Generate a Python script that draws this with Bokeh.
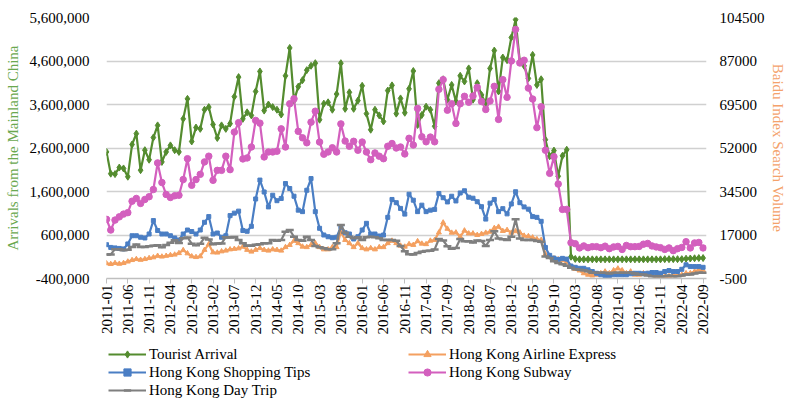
import math
from bokeh.plotting import figure
from bokeh.layouts import column
from bokeh.models import (Range1d, LinearAxis, FixedTicker, NumeralTickFormatter,
                          Legend, LegendItem)
from bokeh.embed import file_html
from bokeh.resources import INLINE

# ---------------- data ----------------
tick_labels = ["2011-01", "2011-06", "2011-11", "2012-04", "2012-09", "2013-02", "2013-07",
               "2013-12", "2014-05", "2014-10", "2015-03", "2015-08", "2016-01", "2016-06",
               "2016-11", "2017-04", "2017-09", "2018-02", "2018-07", "2018-12", "2019-05",
               "2019-10", "2020-03", "2020-08", "2021-01", "2021-06", "2021-11", "2022-04",
               "2022-09"]
left_ticks = [-400000, 600000, 1600000, 2600000, 3600000, 4600000, 5600000]
right_ticks = [-500, 17000, 34500, 52000, 69500, 87000, 104500]

tourist_arrival = [
    2510000, 2010000, 2000000, 2150000, 2130000, 1940000, 2680000, 2930000, 2090000, 2550000,
    2330000, 2840000, 3120000, 2280000, 2510000, 2660000, 2550000, 2510000, 3270000, 3730000,
    2750000, 3070000, 3040000, 3480000, 3540000, 3140000, 2830000, 3120000, 3040000, 3160000,
    3780000, 4230000, 3270000, 3420000, 3350000, 3900000, 4360000, 3460000, 3600000, 3540000,
    3480000, 3370000, 4260000, 4900000, 3690000, 4010000, 4160000, 4390000, 4490000, 4550000,
    3250000, 3620000, 3650000, 3480000, 3840000, 4550000, 3500000, 3880000, 3500000, 3690000,
    4030000, 3390000, 3020000, 3480000, 3350000, 3210000, 3920000, 4040000, 3390000, 3740000,
    3410000, 3960000, 4370000, 3130000, 3360000, 3550000, 3480000, 3100000, 4090000, 4180000,
    3710000, 4050000, 3670000, 4260000, 4130000, 4430000, 3710000, 4090000, 3820000, 3630000,
    4430000, 4840000, 3900000, 4680000, 4620000, 5140000, 5550000, 4580000, 4490000, 4200000,
    4740000, 4050000, 4180000, 2790000, 2410000, 2540000, 1950000, 2420000, 2560000, 100000,
    50000, 40000, 40000, 40000, 40000, 40000, 40000, 40000, 40000, 40000,
    40000, 40000, 40000, 40000, 40000, 40000, 40000, 40000, 40000, 40000,
    40000, 45000, 45000, 45000, 45000, 45000, 55000, 60000, 65000, 70000,
    70000]

airline_express = [
    5600, 5300, 5700, 5400, 5700, 6300, 6900, 7300, 7000, 7300,
    7700, 8000, 8600, 8300, 8600, 8900, 9100, 9700, 10900, 9600,
    8400, 8100, 8400, 11000, 13300, 10000, 9900, 10400, 10700, 11200,
    11400, 11600, 12300, 11000, 10300, 11000, 11700, 11000, 10700, 11200,
    11000, 10700, 12100, 13000, 14700, 13700, 12300, 12100, 13000, 13700,
    12100, 11200, 11200, 12100, 12100, 18300, 15000, 13700, 12100, 13700,
    11700, 11200, 11700, 11200, 12100, 12100, 13700, 14700, 13700, 12700,
    12300, 13300, 13000, 14500, 13500, 13300, 14700, 15000, 18000, 22000,
    19500, 17900, 18000, 16300, 18800, 17600, 17600, 17000, 17400, 17900,
    18300, 19800, 20300, 18600, 19000, 17900, 18500, 18000, 16700, 16500,
    16000, 15300, 15000, 9300, 8300, 7600, 7200, 6800, 6000, 4300,
    3300, 2700, 1600, 1000, 700, 1000, 1600, 2300, 1600, 2800,
    3500, 2800, 1600, 2300, 1000, 1000, 1600, 1400, 1000, 400,
    400, 400, 400, 700, 1000, 1000, 1600, 1600, 2300, 3000,
    2800]

shopping_tips = [
    13100, 12000, 11800, 11600, 11400, 13400, 16700, 16700, 16100, 15800,
    17400, 22800, 18800, 17400, 17400, 16700, 15800, 15000, 17400, 19000,
    18400, 17400, 19000, 22100, 24400, 17400, 17800, 16100, 16700, 24800,
    25800, 26600, 18800, 18500, 20500, 31500, 39100, 34300, 28300, 33000,
    30800, 31700, 37700, 35700, 32600, 27000, 26400, 35000, 39700, 26400,
    19700, 17000, 16300, 15900, 16100, 20300, 17900, 17400, 15400, 16300,
    19000, 21700, 17400, 17400, 16600, 17000, 24100, 31300, 30000, 27700,
    25400, 33400, 31000, 26400, 29000, 26400, 27000, 27300, 33700, 32000,
    30300, 32600, 30700, 33900, 34800, 32200, 31800, 30400, 28400, 23400,
    29800, 31300, 26400, 27600, 25500, 29500, 34400, 30000, 28300, 27400,
    24400, 24100, 22500, 12000, 8800, 7700, 7200, 7600, 7300, 4500,
    4000, 3600, 3600, 3000, 2300, 1600, 1000, 600, 600, 1000,
    1000, 1000, 1000, 1400, 1600, 1600, 1400, 1600, 1900, 1900,
    1600, 2300, 2700, 2300, 2300, 3200, 5000, 4300, 4300, 4300,
    4000]

subway = [
    23300, 19000, 23000, 24300, 25400, 26000, 30600, 31700, 29700, 31300,
    32400, 35300, 46000, 38100, 33300, 32100, 32800, 33000, 39300, 47700,
    37000, 39300, 41400, 46400, 48700, 39000, 43000, 43000, 48700, 43300,
    58400, 62200, 47600, 48000, 52400, 63100, 62000, 48400, 50400, 50400,
    50700, 59700, 52400, 69800, 71800, 58700, 56100, 54100, 62400, 66800,
    54400, 49500, 50400, 52100, 50400, 61700, 54800, 52700, 54700, 51100,
    54400, 50400, 47300, 50000, 48700, 47700, 52700, 53800, 52000, 52400,
    49600, 55900, 53200, 67900, 56500, 54500, 56400, 54500, 75600, 79500,
    67200, 69800, 61900, 69800, 72800, 70400, 72900, 76400, 70700, 67500,
    70900, 76800, 63500, 79500, 72400, 87000, 99700, 86200, 87300, 76100,
    71700, 60200, 68600, 51100, 41800, 48500, 37500, 27300, 27300, 13900,
    13500, 11800, 12600, 11900, 12300, 12300, 11900, 12500, 11500, 12200,
    12400, 11200, 12800, 12300, 12300, 12400, 13300, 13600, 12600, 12200,
    11900, 11200, 11800, 10700, 11500, 12000, 14300, 11800, 13800, 14000,
    11800]

day_trip = [
    9200, 9200, 11300, 11300, 10900, 11100, 12200, 13200, 12200, 12200,
    12500, 12700, 12900, 12100, 13000, 13900, 14900, 13800, 15700, 16000,
    13500, 12900, 13500, 15900, 15200, 13300, 13600, 13600, 16100, 16000,
    16200, 15000, 13700, 12700, 12700, 13100, 13300, 13700, 13700, 15000,
    14700, 15000, 18300, 19000, 16300, 15000, 14700, 16300, 15000, 12600,
    12100, 11700, 11300, 11300, 13700, 21000, 17900, 16300, 15700, 16100,
    15000, 16100, 16300, 16100, 15700, 15000, 15000, 15000, 14700, 12600,
    10500, 9300, 9200, 9800, 10300, 10600, 10700, 11200, 15400, 14800,
    12500, 11500, 11800, 15400, 14500, 14500, 14000, 14800, 14600, 12600,
    15000, 18500, 15600, 15300, 15000, 16300, 23300, 15600, 15000, 15000,
    15000, 14600, 14300, 8400, 7700, 6400, 5700, 5200, 4600, 3800,
    3200, 3000, 2800, 2400, 1800, 1800, 1800, 1800, 1500, 1800,
    1800, 1800, 1800, 1800, 1500, 1100, 1100, 700, 400, 400,
    400, 400, 700, 400, 400, 700, 1100, 1100, 1500, 1800,
    1800]

series_names = ["Tourist Arrival", "Hong Kong Airline Express", "Hong Kong Shopping Tips",
                "Hong Kong Subway", "Hong Kong Day Trip"]
left_title = "Arrivals from the Mainland China"
right_title = "Baidu Index Search Volume"

months = list(range(len(tourist_arrival)))
tick_positions = [5 * k for k in range(len(tick_labels))]

# ---------------- styling ----------------
FONT = "Liberation Serif"
C_GREEN = "#548C2F"
C_ORANGE = "#F4A060"
C_BLUE = "#4A7EC4"
C_PINK = "#D35FBE"
C_GRAY = "#7F7F7F"

p = figure(frame_width=600, frame_height=261,
           min_border_left=106, min_border_right=80, min_border_top=17, min_border_bottom=66,
           x_range=Range1d(0, 140.8), y_range=Range1d(-400000, 5600000),
           output_backend="svg", toolbar_location=None, tools="")
p.extra_y_ranges = {"right": Range1d(-500, 104500)}
p.outline_line_color = None
p.background_fill_color = "white"
p.border_fill_color = "white"

# grid
p.xgrid.visible = False
p.ygrid.grid_line_color = "#D0D0D0"
p.ygrid.grid_line_width = 1.5

# left axis
ya = p.yaxis[0]
ya.ticker = FixedTicker(ticks=left_ticks)
ya.formatter = NumeralTickFormatter(format="0,0")
ya.axis_line_color = None
ya.major_tick_line_color = None
ya.minor_tick_line_color = None
ya.major_tick_out = 0
ya.major_label_standoff = 17
ya.major_label_text_font = FONT
ya.major_label_text_font_size = "15px"
ya.major_label_text_color = "black"
ya.axis_label = left_title
ya.axis_label_text_font = FONT
ya.axis_label_text_font_size = "15px"
ya.axis_label_text_font_style = "normal"
ya.axis_label_text_color = "#6AA84F"
ya.axis_label_standoff = 6

# right axis
ra = LinearAxis(y_range_name="right", ticker=FixedTicker(ticks=right_ticks),
                formatter=NumeralTickFormatter(format="0"))
ra.axis_line_color = None
ra.major_tick_line_color = None
ra.minor_tick_line_color = None
ra.major_tick_out = 0
ra.major_label_standoff = 13
ra.major_label_text_font = FONT
ra.major_label_text_font_size = "15px"
ra.major_label_text_color = "black"
ra.axis_label = right_title
ra.axis_label_text_font = FONT
ra.axis_label_text_font_size = "15px"
ra.axis_label_text_font_style = "normal"
ra.axis_label_text_color = "#F4A26B"
ra.axis_label_standoff = 2
ra.axis_label_orientation = "vertical"
p.add_layout(ra, "right")

# bottom axis
xa = p.xaxis[0]
xa.ticker = FixedTicker(ticks=tick_positions)
xa.major_label_overrides = {t: lab for t, lab in zip(tick_positions, tick_labels)}
xa.major_label_orientation = math.pi / 2
xa.axis_line_color = "#BFBFBF"
xa.axis_line_width = 1.5
xa.major_tick_line_color = "#BFBFBF"
xa.major_tick_out = 5
xa.major_tick_in = 0
xa.minor_tick_line_color = None
xa.major_label_standoff = 1
xa.major_label_text_font = FONT
xa.major_label_text_font_size = "15px"
xa.major_label_text_color = "black"

styles = [
    (tourist_arrival, C_GREEN, "diamond", 7, None),
    (airline_express, C_ORANGE, "triangle", 5, "right"),
    (shopping_tips, C_BLUE, "square", 4, "right"),
    (subway, C_PINK, "circle", 6.5, "right"),
    (day_trip, C_GRAY, "dash", 8, "right"),
]

def draw(fig, x, y, color, marker, size, rng):
    kw = {} if rng is None else {"y_range_name": rng}
    ln = fig.line(x, y, line_color=color, line_width=2.2, **kw)
    if marker == "dash":
        mk = fig.scatter(x, y, marker="dash", size=size, line_color=color,
                         line_width=2.5, **kw)
    else:
        mk = fig.scatter(x, y, marker=marker, size=size, fill_color=color,
                         line_color=color, **kw)
    return [ln, mk]

for (vals, col, mk, sz, rng) in styles:
    draw(p, months, vals, col, mk, sz, rng)

# ---------------- legend strip (separate figure below, frame aligned with plot) ----------------
lg_fig = figure(width=786, height=60, min_border=0, x_range=Range1d(0, 1),
                y_range=Range1d(0, 1), x_axis_location=None, y_axis_location=None,
                output_backend="svg", toolbar_location=None, tools="")
lg_fig.grid.visible = False
lg_fig.outline_line_color = None
lg_fig.background_fill_color = "white"
lg_fig.border_fill_color = "white"

items = []
for name, (vals, col, mk, sz, rng) in zip(series_names, styles):
    # proxy renderers placed outside the visible range: only their legend glyphs show
    rs = draw(lg_fig, [-5, -4], [-5, -4], col, mk, sz, None)
    items.append(LegendItem(label=name, renderers=rs))

legend = Legend(items=items, orientation="horizontal", ncols=2, location=(2, 5),
                label_text_font=FONT, label_text_font_size="15px",
                label_text_color="black", glyph_width=38, glyph_height=18,
                label_height=18, label_width=259, label_standoff=3, spacing=0,
                padding=0, margin=0, border_line_color=None, background_fill_alpha=0)
lg_fig.add_layout(legend, "center")

layout = column(p, lg_fig, spacing=0)
open("out.html", "w").write(file_html(layout, INLINE))
